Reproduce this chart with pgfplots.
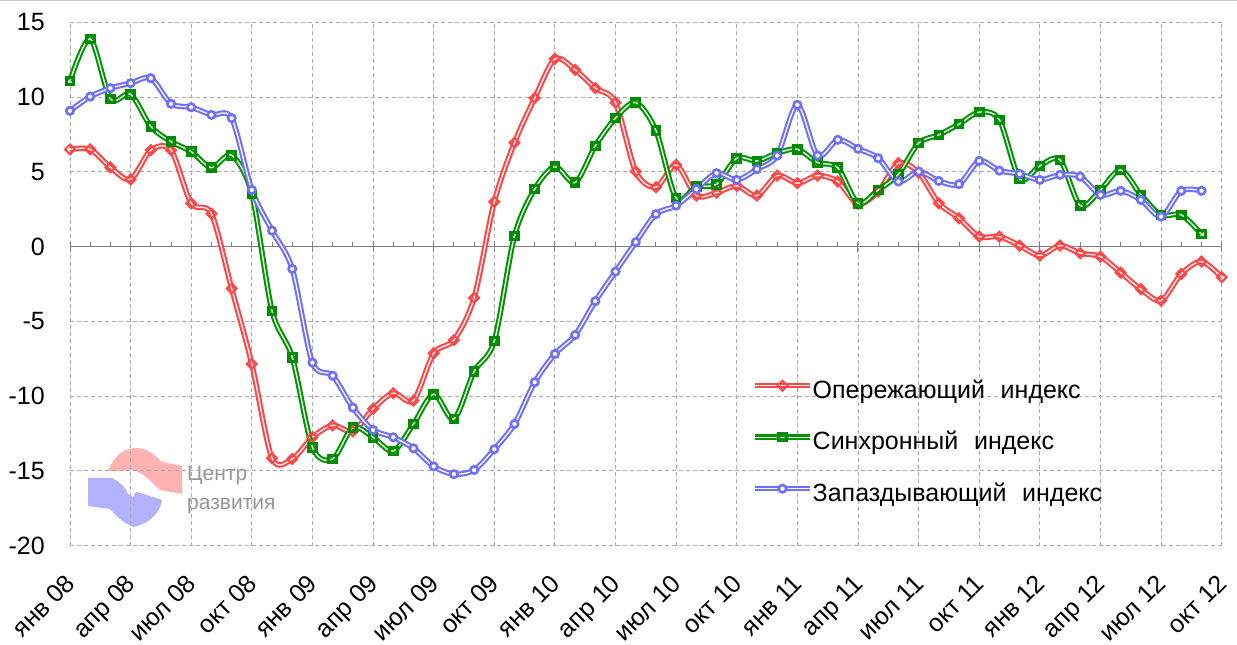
\documentclass[border=0pt]{standalone}
\usepackage{pgfplots}
\pgfplotsset{compat=1.18}
\usepackage{fontspec}
\setmainfont{Liberation Sans}
\definecolor{cred}{RGB}{255,70,70}
\definecolor{cgreen}{RGB}{0,150,0}
\definecolor{cgreendk}{RGB}{0,140,0}
\definecolor{cblue}{RGB}{110,110,255}
\definecolor{gridc}{RGB}{170,170,170}
\definecolor{zeroc}{RGB}{128,128,128}
\definecolor{wmtext}{RGB}{150,150,150}
\definecolor{wmpink}{RGB}{255,178,178}
\definecolor{wmblue}{RGB}{178,178,255}
\pgfplotstableread{
m v
0 6.5
1 6.5
2 5.3
3 4.5
4 6.45
5 6.45
6 2.9
7 2.2
8 -2.8
9 -7.85
10 -14.15
11 -14.2
12 -12.75
13 -11.95
14 -12.35
15 -10.85
16 -9.8
17 -10.3
18 -7.13
19 -6.25
20 -3.43
21 3.0
22 6.95
23 9.93
24 12.55
25 11.82
26 10.6
27 9.63
28 5.02
29 3.97
30 5.46
31 3.41
32 3.61
33 4.06
34 3.41
35 4.75
36 4.24
37 4.75
38 4.35
39 2.86
40 3.68
41 5.58
42 4.95
43 2.9
44 1.9
45 0.67
46 0.67
47 0.07
48 -0.6
49 0.07
50 -0.44
51 -0.67
52 -1.74
53 -2.85
54 -3.61
55 -1.83
56 -1.0
57 -2.05
}\tblred
\pgfplotstableread{
m v
0 11.08
1 13.89
2 9.88
3 10.19
4 8.03
5 7.02
6 6.35
7 5.28
8 6.11
9 3.52
10 -4.3
11 -7.4
12 -13.42
13 -14.2
14 -12.1
15 -12.75
16 -13.67
17 -11.86
18 -9.87
19 -11.53
20 -8.36
21 -6.31
22 0.72
23 3.84
24 5.35
25 4.28
26 6.74
27 8.59
28 9.63
29 7.76
30 3.24
31 4.01
32 4.17
33 5.91
34 5.73
35 6.25
36 6.51
37 5.62
38 5.27
39 2.9
40 3.79
41 4.84
42 6.92
43 7.47
44 8.19
45 8.99
46 8.47
47 4.53
48 5.4
49 5.8
50 2.74
51 3.79
52 5.13
53 3.46
54 2.12
55 2.12
56 0.83
}\tblgreen
\pgfplotstableread{
m v
0 9.08
1 10.03
2 10.59
3 10.93
4 11.26
5 9.55
6 9.32
7 8.81
8 8.59
9 3.79
10 1.07
11 -1.49
12 -7.76
13 -8.63
14 -10.77
15 -12.26
16 -12.75
17 -13.49
18 -14.7
19 -15.22
20 -14.94
21 -13.55
22 -11.86
23 -9.07
24 -7.18
25 -5.91
26 -3.65
27 -1.67
28 0.29
29 2.17
30 2.74
31 3.84
32 4.91
33 4.46
34 5.18
35 6.09
36 9.48
37 6.09
38 7.14
39 6.54
40 5.91
41 4.35
42 5.02
43 4.39
44 4.17
45 5.73
46 5.08
47 4.86
48 4.46
49 4.8
50 4.68
51 3.46
52 3.73
53 3.12
54 2.01
55 3.73
56 3.73
}\tblblue
\pgfplotsset{
  ser/.style={smooth, tension=0.5, line width=2.1bp, double=white, double distance=1.3bp},
}
\begin{document}
\begin{tikzpicture}[x=1bp,y=1bp]
\useasboundingbox (0,0) rectangle (1237,645);
\draw[line width=1.5bp, black!22] (0,644.3) -- (1237,644.3);
% watermark logo
\fill[wmpink] (108,174) .. controls (114,188) and (121,195) .. (134,197) .. controls (146,198) and (155,190) .. (162,183) -- (182,179) -- (182,151) -- (160,155) .. controls (152,162) and (146,170) .. (136,174) .. controls (130,176) and (124,173) .. (108,174) -- cycle;
\fill[wmblue] (88,167) -- (112,167) .. controls (122,162) and (126,156) .. (128,151) -- (133,148) -- (136,153) .. controls (142,152) and (150,149) .. (162,145) .. controls (160,132) and (150,122) .. (134,118) .. controls (122,122) and (116,130) .. (110,136) -- (88,139) -- cycle;
\node[anchor=base west, inner sep=0pt, text=wmtext, font=\fontsize{21bp}{25bp}\selectfont] at (187,164) {Центр};
\node[anchor=base west, inner sep=0pt, text=wmtext, font=\fontsize{21bp}{25bp}\selectfont] at (187,135) {развития};
\begin{axis}[
  at={(70bp,99.3bp)}, anchor=south west,
  scale only axis, width=1151.7bp, height=523.4bp,
  xmin=0, xmax=57, ymin=-20, ymax=15,
  enlargelimits=false, clip=false,
  axis line style={draw=none},
  major tick length=0pt,
  xtick={0,3,...,57},
  xticklabels={янв 08,апр 08,июл 08,окт 08,янв 09,апр 09,июл 09,окт 09,янв 10,апр 10,июл 10,окт 10,янв 11,апр 11,июл 11,окт 11,янв 12,апр 12,июл 12,окт 12},
  ytick={-20,-15,...,15},
  yticklabels={-20,-15,-10,-5,0,5,10,15},
  grid=major,
  major grid style={draw=gridc, line width=0.9bp, dash pattern=on 4bp off 3bp},
  tick label style={font=\fontsize{25bp}{30bp}\selectfont},
  xticklabel style={rotate=45, anchor=east, inner sep=0pt, text height=18bp, text depth=0bp},
  xticklabel shift=33bp,
  yticklabel style={anchor=east, inner sep=0pt},
  yticklabel shift=25bp,
  legend style={at={(0.5922,0.3166)}, anchor=north west, draw=none, fill=none, inner sep=0pt,
    row sep=28.5bp, font=\fontsize{25bp}{30bp}\selectfont,
    nodes={inner sep=0pt, text height=18bp, text depth=5bp},
    /tikz/every even column/.append style={column sep=4bp}},
  legend cell align=left,
  legend image code/.code={\draw[mark repeat=2,mark phase=2,#1] plot coordinates {(0bp,6bp) (27.5bp,6bp) (55bp,6bp)};},
]
\draw[zeroc, line width=1.3bp] (axis cs:0,0) -- (axis cs:57,0);
\pgfplotsinvokeforeach{0,...,57}{\draw[zeroc, line width=1bp] (axis cs:#1,0) -- (axis cs:#1,0.31);}
\pgfplotsinvokeforeach{0,3,...,57}{\draw[zeroc, line width=1bp] (axis cs:#1,-0.34) -- (axis cs:#1,0.34);}
\addplot[ser, cred, mark=square, mark size=3.5bp, mark options={solid, double=none, rotate=45, fill=white, draw=cred, line width=2bp}] table[x=m,y=v] {\tblred};
\addlegendentry{Опережающий\hspace{0.35em} индекс}
\addplot[ser, cgreen, mark=square, mark size=3.8bp, mark options={solid, double=none, fill=white, draw=cgreendk, line width=3bp}] table[x=m,y=v] {\tblgreen};
\addlegendentry{Синхронный\hspace{0.35em} индекс}
\addplot[ser, cblue, mark=*, mark size=3.7bp, mark options={solid, double=none, fill=white, draw=cblue, line width=2.6bp}] table[x=m,y=v] {\tblblue};
\addlegendentry{Запаздывающий\hspace{0.35em} индекс}
\end{axis}
\end{tikzpicture}
\end{document}
